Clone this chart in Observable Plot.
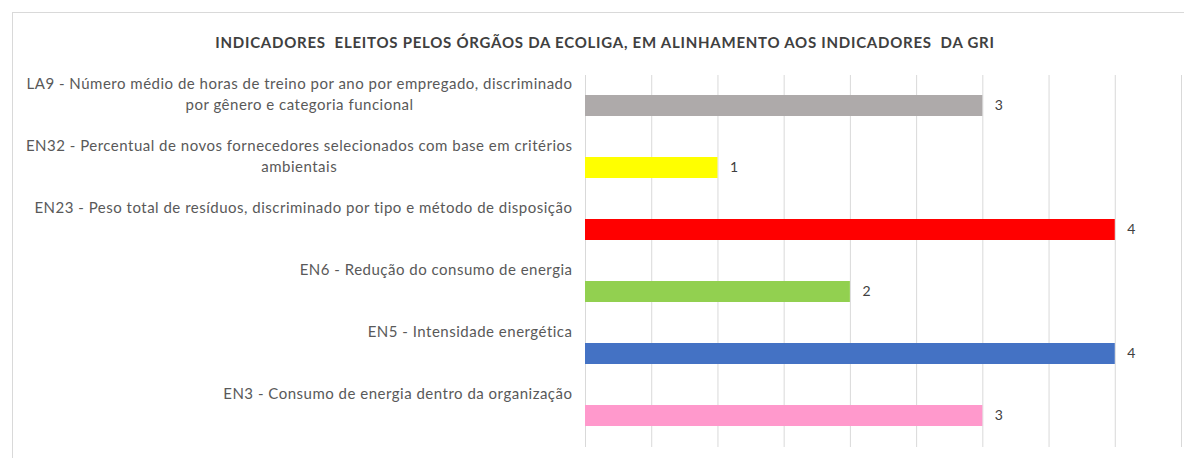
<!DOCTYPE html>
<html>
<head>
<meta charset="utf-8">
<script src="https://cdn.jsdelivr.net/npm/d3@7"></script>
<script src="https://cdn.jsdelivr.net/npm/@observablehq/plot@0.6"></script>
<style>
  html, body { margin: 0; padding: 0; background: #fff; overflow: hidden; }
  #wrap { position: relative; width: 1184px; height: 458px; }
  #frame { position: absolute; left: 12px; top: 12px; width: 1180px; height: 460px;
           border-top: 1px solid #d9d9d9; border-left: 1px solid #d9d9d9; }
  #title { position: absolute; top: 33px; left: 605px; transform: translateX(-50%);
           white-space: pre; font-family: Lato, sans-serif; font-weight: bold; font-size: 15px;
           letter-spacing: 0.75px; color: #404040; }
  #chart { position: absolute; left: 0; top: 0; }
  .catlabels text { letter-spacing: 0.5px; }
</style>
</head>
<body>
<div id="wrap">
  <div id="frame"></div>
  <div id="title">INDICADORES  ELEITOS PELOS ÓRGÃOS DA ECOLIGA, EM ALINHAMENTO AOS INDICADORES  DA GRI</div>
  <div id="chart"></div>
</div>
<script>
const categories = [
  "LA9 - Número médio de horas de treino por ano por empregado, discriminado\npor gênero e categoria funcional",
  "EN32 - Percentual de novos fornecedores selecionados com base em critérios\nambientais",
  "EN23 - Peso total de resíduos, discriminado por tipo e método de disposição",
  "EN6 - Redução do consumo de energia",
  "EN5 - Intensidade energética",
  "EN3 - Consumo de energia dentro da organização"
];
const values = [3, 1, 4, 2, 4, 3];
const colors = ["#AEAAAA", "#FFFF00", "#FF0000", "#92D050", "#4472C4", "#FF99CC"];
const gridTicks = [0, 0.5, 1, 1.5, 2, 2.5, 3, 3.5, 4, 4.5];

const data = categories.map((c, i) => ({cat: c, value: values[i], color: colors[i]}));

const chart = Plot.plot({
  width: 1184,
  height: 458,
  marginTop: 75,
  marginBottom: 11,
  marginLeft: 585,
  marginRight: 3,
  style: {fontFamily: "Lato, sans-serif", fontSize: "14px", background: "transparent"},
  x: {domain: [0, 4.5], axis: null},
  y: {domain: categories, paddingInner: 0.66, paddingOuter: 0.33, axis: null},
  marks: [
    Plot.ruleX(gridTicks, {stroke: "#d9d9d9", strokeWidth: 1}),
    Plot.barX(data, {x: "value", y: "cat", fill: "color"}),
    Plot.text(data, {x: () => 0, y: "cat", text: "cat", textAnchor: "middle", lineAnchor: "top",
      dy: -31, lineHeight: 1.35, fill: "#595959", fontSize: 15}),
    Plot.text(data, {x: "value", y: "cat", text: d => String(d.value), textAnchor: "start",
      dx: 12, fill: "#404040", fontSize: 14})
  ]
});
document.getElementById("chart").appendChild(chart);

// the first text mark holds the category labels
const textGroups = chart.querySelectorAll('g[aria-label="text"]');
const labelGroup = textGroups[0];
if (labelGroup) labelGroup.classList.add("catlabels");

// right-align each label block to the axis, with its lines centred on each other
function alignLabels() {
  if (!labelGroup) return;
  labelGroup.querySelectorAll("text").forEach(t => {
    if (t.dataset.base === undefined) t.dataset.base = t.getAttribute("transform") || "";
    const w = t.getBBox().width;
    t.setAttribute("transform", `${t.dataset.base} translate(${-(13 + w / 2)},0)`);
  });
}
alignLabels();
document.fonts.ready.then(alignLabels);
</script>
</body>
</html>
